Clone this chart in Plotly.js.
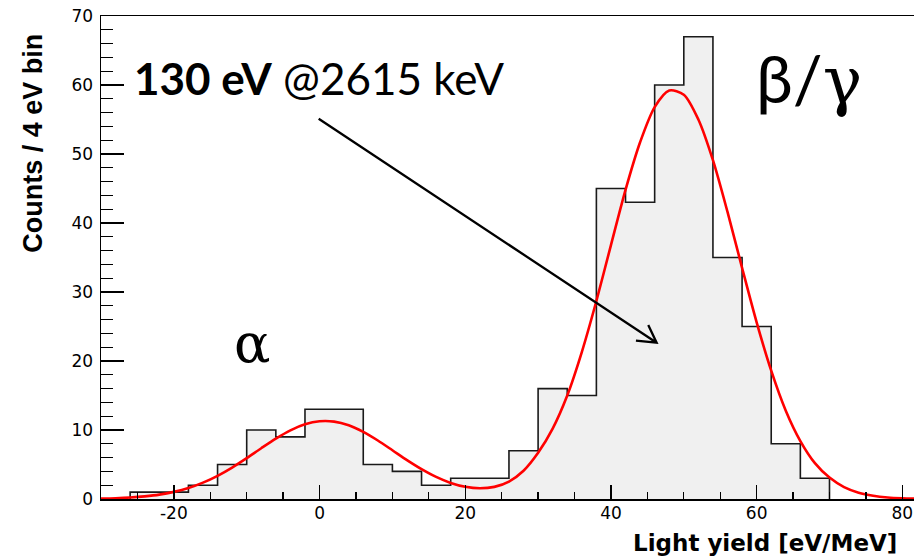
<!DOCTYPE html>
<html>
<head>
<meta charset="utf-8">
<script src="https://cdn.plot.ly/plotly-3.0.1.min.js"></script>
<style>
  html, body { margin: 0; padding: 0; background: #ffffff; }
  #chart { width: 914px; height: 559px; }
</style>
</head>
<body>
<div id="chart"></div>
<script>
// Light-yield histogram: 4 eV/MeV bins (bin centres and counts)
const binCenters = [-24, -20, -16, -12, -8, -4, 0, 4, 8, 12, 16, 20,
                    24, 28, 32, 36, 40, 44, 48, 52, 56, 60, 64, 68];
const counts     = [1, 1, 2, 5, 10, 9, 13, 13, 5, 4, 2, 3,
                    3, 7, 16, 15, 45, 43, 60, 67, 35, 25, 8, 3];
const binWidth = 4;

// Fitted double-peak curve (alpha band + beta/gamma band)
const fitX = [-30, -28, -26, -24, -22, -20, -18, -16, -14, -12, -10, -8, -6, -4, -2,
              0, 2, 4, 6, 8, 10, 12, 14, 16, 18, 20, 22, 24, 26, 28, 30,
              32, 34, 36, 38, 40, 42, 44, 46, 48, 50, 52, 54, 56, 58, 60,
              62, 64, 66, 68, 70, 72, 74, 76, 78, 80, 82];
const fitY = [0.06, 0.11, 0.21, 0.38, 0.63, 1.03, 1.59, 2.37, 3.36, 4.56, 5.92, 7.36, 8.75, 9.95, 10.82,
              11.26, 11.21, 10.68, 9.73, 8.48, 7.07, 5.64, 4.33, 3.20, 2.33, 1.77, 1.55, 1.76, 2.53, 4.1, 6.7,
              10.2, 15.0, 21.3, 28.7, 36.8, 44.8, 51.7, 56.8, 59.2, 58.6, 55.0, 49.1, 41.6, 33.5, 25.6,
              18.6, 12.8, 8.4, 5.2, 3.1, 1.73, 0.92, 0.47, 0.22, 0.10, 0.04];

// Axis tick labels (plain hyphen for negatives)
const xTickVals = [-20, 0, 20, 40, 60, 80];
const xTickText = ['-20', '0', '20', '40', '60', '80'];
const yTickVals = [0, 10, 20, 30, 40, 50, 60, 70];
const yTickText = ['0', '10', '20', '30', '40', '50', '60', '70'];

// Build the step outline from the bin edges
const stepX = [binCenters[0] - binWidth / 2];
const stepY = [0];
binCenters.forEach((c, i) => { stepX.push(c - binWidth / 2); stepY.push(counts[i]); });
stepX.push(binCenters[binCenters.length - 1] + binWidth / 2);
stepY.push(0);

const histTrace = {
  type: 'scatter', mode: 'lines',
  x: stepX, y: stepY,
  line: { shape: 'hv', color: '#1a1a1a', width: 1.6 },
  fill: 'tozeroy', fillcolor: '#f0f0f0',
  hoverinfo: 'skip', showlegend: false
};

const fitTrace = {
  type: 'scatter', mode: 'lines',
  x: fitX, y: fitY,
  line: { shape: 'spline', smoothing: 0.8, color: '#ff0000', width: 2.6 },
  hoverinfo: 'skip', showlegend: false
};

const tickFont = { family: 'DejaVu Sans, sans-serif', size: 17, color: '#000000' };

const layout = {
  width: 914, height: 559,
  margin: { l: 101, r: 0, t: 16, b: 60, pad: 0 },
  paper_bgcolor: '#ffffff', plot_bgcolor: '#ffffff',
  showlegend: false,
  xaxis: {
    range: [-30, 81.6], tickmode: 'array', tickvals: xTickVals, ticktext: xTickText,
    ticks: 'inside', ticklen: 14, tickwidth: 1.3, tickcolor: '#000000',
    minor: { dtick: 5, tick0: 0, ticks: 'inside', ticklen: 7, tickwidth: 1.3, tickcolor: '#000000', showgrid: false },
    showline: true, linecolor: '#000000', linewidth: 1.5, mirror: true,
    showgrid: false, zeroline: false,
    tickfont: tickFont, ticklabelstandoff: -2
  },
  yaxis: {
    range: [0, 70], tickmode: 'array', tickvals: yTickVals, ticktext: yTickText,
    ticks: 'inside', ticklen: 23, tickwidth: 1.3, tickcolor: '#000000',
    minor: { dtick: 2, tick0: 0, ticks: 'inside', ticklen: 12, tickwidth: 1.3, tickcolor: '#000000', showgrid: false },
    showline: true, linecolor: '#000000', linewidth: 1.5,
    showgrid: false, zeroline: false,
    tickfont: tickFont, ticklabelstandoff: 3
  },
  shapes: [
    {
      type: 'path', xref: 'x', yref: 'y',
      path: 'M -0.12,55.1 L 46.27,22.65 M 43.43,22.95 L 46.27,22.65 L 45.12,25.22',
      line: { color: '#000000', width: 2.3 }
    }
  ],
  annotations: [
    {
      xref: 'paper', yref: 'paper', x: 0.8171, y: -0.0911,
      xanchor: 'center', yanchor: 'middle', showarrow: false,
      text: '<b>Light yield [eV/MeV]</b>',
      font: { family: 'DejaVu Sans, sans-serif', size: 23, color: '#000000' }
    },
    {
      xref: 'paper', yref: 'paper', x: -0.084, y: 0.737,
      xanchor: 'center', yanchor: 'middle', showarrow: false, textangle: -90,
      text: '<b>Counts / 4 eV bin</b>',
      font: { family: 'Liberation Sans, Arial, sans-serif', size: 27, color: '#000000' }
    },
    {
      xref: 'x', yref: 'y', x: -25.8, y: 61.0,
      xanchor: 'left', yanchor: 'middle', showarrow: false,
      text: '<b>130 eV</b> @2615 keV',
      font: { family: 'Lato, Open Sans, sans-serif', size: 44, color: '#000000' }
    },
    {
      xref: 'x', yref: 'y', x: 59.6, y: 61.0,
      xanchor: 'left', yanchor: 'middle', showarrow: false,
      text: 'β/<span style="font-family:DejaVu Serif">γ</span>',
      font: { family: 'Lato, Open Sans, sans-serif', size: 66, color: '#000000' }
    },
    {
      xref: 'x', yref: 'y', x: -9.3, y: 22.6,
      xanchor: 'center', yanchor: 'middle', showarrow: false,
      text: 'α',
      font: { family: 'DejaVu Serif, serif', size: 54, color: '#000000' }
    }
  ]
};

Plotly.newPlot('chart', [histTrace, fitTrace], layout, { staticPlot: true, displayModeBar: false });
</script>
</body>
</html>
